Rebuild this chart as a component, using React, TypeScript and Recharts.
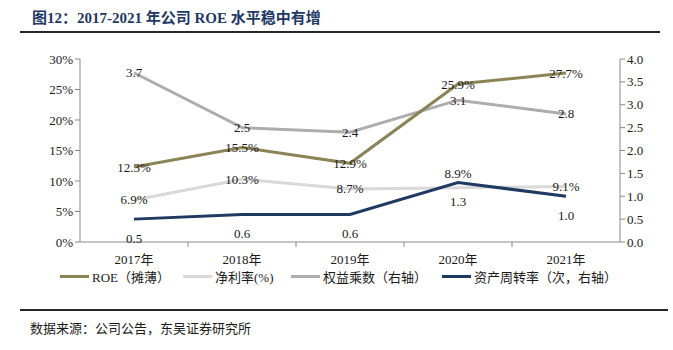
import { LineChart, Line, XAxis, YAxis, LabelList } from 'recharts'

const years = ['2017年', '2018年', '2019年', '2020年', '2021年']
const roe = [12.3, 15.5, 12.9, 25.9, 27.7]
const netMargin = [6.9, 10.3, 8.7, 8.9, 9.1]
const equityMultiplier = [3.7, 2.5, 2.4, 3.1, 2.8]
const assetTurnover = [0.5, 0.6, 0.6, 1.3, 1.0]
const leftTicks = [0, 5, 10, 15, 20, 25, 30]
const rightTicks = [0, 0.5, 1, 1.5, 2, 2.5, 3, 3.5, 4]

const data = years.map((year, i) => ({
  year,
  roe: roe[i],
  netMargin: netMargin[i],
  equity: equityMultiplier[i],
  turnover: assetTurnover[i],
}))

const W = 673
const CHART_H = 270
const MARGIN = { top: 59, right: 3, bottom: 3, left: 20 }
const X_AXIS_H = 25
const PLOT_BOTTOM = CHART_H - MARGIN.bottom - X_AXIS_H
const PLOT_LEFT = 80
const PLOT_RIGHT = 620
const BAND = (PLOT_RIGHT - PLOT_LEFT) / years.length

const FONT = '"Liberation Serif", "Times New Roman", "DejaVu Serif", "Noto Sans CJK SC", serif'
const AXIS = '#898989'
const TEXT = '#1a1a1a'

const C = {
  roe: '#8c8456',
  netMargin: '#d9d9d9',
  equity: '#adadad',
  turnover: '#1f3a60',
}

const legend = [
  { name: 'ROE（摊薄）', color: C.roe },
  { name: '净利率(%)', color: C.netMargin },
  { name: '权益乘数（右轴）', color: C.equity },
  { name: '资产周转率（次，右轴）', color: C.turnover },
]
const legendLeft = [60, 183, 291, 442]

const XTick = (props: any) => {
  const { x, payload, index } = props
  return (
    <g>
      {index > 0 && (
        <line x1={x - BAND / 2} x2={x - BAND / 2} y1={PLOT_BOTTOM} y2={PLOT_BOTTOM + 5} stroke={AXIS} />
      )}
      <text x={x} y={PLOT_BOTTOM + 17} dy="0.35em" textAnchor="middle" fontSize={13} fill={TEXT} fontFamily={FONT}>
        {payload.value}
      </text>
    </g>
  )
}

// dy shifts per series: most labels sit on the point, turnover below, 2020 net margin above
const makeLabel = (fmt: (v: number) => string, shift: (i: number) => number) => (props: any) => {
  const { x, y, value, index } = props
  return (
    <text x={x} y={y + shift(index)} dy="0.35em" textAnchor="middle" fontSize={13} fill={TEXT} fontFamily={FONT}>
      {fmt(value)}
    </text>
  )
}

export default function App() {
  return (
    <div style={{ position: 'absolute', left: 0, top: 0, width: W, height: 350, background: '#fff', fontFamily: FONT }}>
      <div style={{ position: 'absolute', left: 32, top: 6, fontSize: 15, fontWeight: 'bold', color: '#1f3864', whiteSpace: 'nowrap' }}>
        图12：2017-2021 年公司 ROE 水平稳中有增
      </div>
      <div style={{ position: 'absolute', left: 20, top: 31, width: 640, height: 2, background: '#262626' }} />

      <div style={{ position: 'absolute', left: 0, top: 0 }}>
        <LineChart width={W} height={CHART_H} data={data} margin={MARGIN}>
          <XAxis
            dataKey="year"
            height={X_AXIS_H}
            stroke={AXIS}
            tickLine={false}
            tick={<XTick />}
            interval={0}
            padding={{ left: BAND / 2, right: BAND / 2 }}
          />
          <YAxis
            yAxisId="left"
            width={60}
            domain={[0, 30]}
            ticks={leftTicks}
            tickFormatter={(v) => `${v}%`}
            stroke={AXIS}
            tickSize={5}
            tick={{ fontSize: 13, fill: TEXT, fontFamily: FONT }}
            interval={0}
          />
          <YAxis
            yAxisId="right"
            orientation="right"
            width={50}
            domain={[0, 4]}
            ticks={rightTicks}
            tickFormatter={(v) => v.toFixed(1)}
            stroke={AXIS}
            tickSize={5}
            tick={{ fontSize: 13, fill: TEXT, fontFamily: FONT }}
            interval={0}
          />
          <Line yAxisId="left" dataKey="netMargin" stroke={C.netMargin} strokeWidth={3} dot={false} isAnimationActive={false}>
            <LabelList dataKey="netMargin" content={makeLabel((v) => `${v.toFixed(1)}%`, (i) => (i === 3 ? -14 : 0))} />
          </Line>
          <Line yAxisId="right" dataKey="equity" stroke={C.equity} strokeWidth={3} dot={false} isAnimationActive={false}>
            <LabelList dataKey="equity" content={makeLabel((v) => v.toFixed(1), () => 0)} />
          </Line>
          <Line yAxisId="right" dataKey="turnover" stroke={C.turnover} strokeWidth={3} dot={false} isAnimationActive={false}>
            <LabelList dataKey="turnover" content={makeLabel((v) => v.toFixed(1), () => 19)} />
          </Line>
          <Line yAxisId="left" dataKey="roe" stroke={C.roe} strokeWidth={3} dot={false} isAnimationActive={false}>
            <LabelList dataKey="roe" content={makeLabel((v) => `${v.toFixed(1)}%`, () => 0)} />
          </Line>
        </LineChart>
      </div>

      {legend.map((item, i) => (
        <div
          key={item.name}
          style={{ position: 'absolute', left: legendLeft[i], top: 268, height: 16, display: 'flex', alignItems: 'center', fontSize: 13, color: TEXT, whiteSpace: 'nowrap' }}
        >
          <span style={{ display: 'inline-block', width: 29, height: 3, background: item.color, marginRight: 3 }} />
          {item.name}
        </div>
      ))}

      <div style={{ position: 'absolute', left: 20, top: 309, width: 648, height: 2, background: '#262626' }} />
      <div style={{ position: 'absolute', left: 30, top: 318, fontSize: 13, color: TEXT, whiteSpace: 'nowrap' }}>
        数据来源：公司公告，东吴证券研究所
      </div>
    </div>
  )
}
